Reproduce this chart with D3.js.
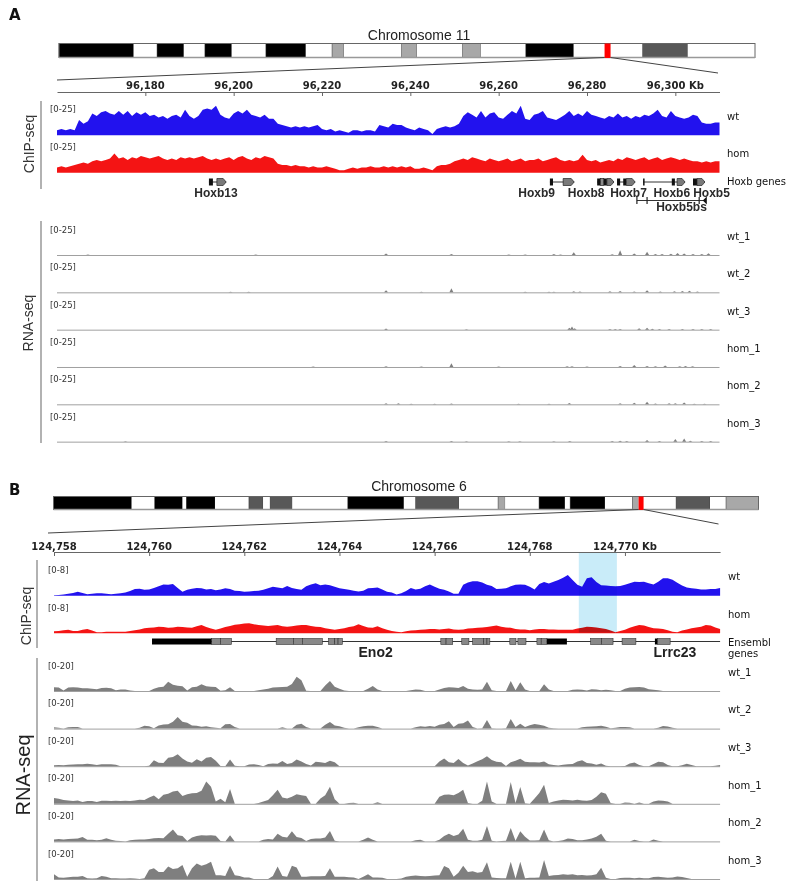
<!DOCTYPE html>
<html>
<head>
<meta charset="utf-8">
<script src="https://cdn.jsdelivr.net/npm/d3@7"></script>
<style>
  body { margin: 0; background: #fff; }
  svg { display: block; }
</style>
</head>
<body>
<script>
// ---------- Panel A : Chr11 Hoxb locus ----------
const chr11LengthMb = 122.1;
const chr11Bands = [[0,13.1,"k"],[13.1,17.2,"w"],[17.2,21.9,"k"],[21.9,25.6,"w"],[25.6,30.3,"k"],[30.3,36.3,"w"],
  [36.3,43.3,"k"],[43.3,47.9,"w"],[47.9,50.0,"g"],[50.0,60.1,"w"],[60.1,62.8,"g"],[62.8,70.8,"w"],[70.8,74.0,"g"],
  [74.0,81.9,"w"],[81.9,90.3,"k"],[90.3,102.4,"w"],[102.4,110.3,"d"],[110.3,122.1,"w"]];
const regionA = [96160, 96310];           // kb
const rulerA = [96180, 96200, 96220, 96240, 96260, 96280, 96300];

// ChIP-seq coverage, one value per kb starting at regionA[0]
const chipAStep = 1;
const chipA_wt = [4,5,4,5,4,12,9,11,17,15,
  18,19,17,16,19,16,19,15,18,16, 18,15,16,14,15,13,15,16,14,20,
  15,13,15,20,21,20,23,16,14,13, 17,19,17,20,16,15,14,16,13,13,
  9,8,7,6,7,6,7,6,7,8, 5,4,5,3,4,3,2,4,4,3,
  4,4,3,8,7,6,9,8,8,6, 5,4,6,5,4,1,5,6,7,6,
  7,9,15,18,16,14,19,14,17,18, 14,13,16,19,17,23,13,12,16,17,
  19,14,13,12,14,16,19,15,17,15, 19,16,15,14,13,15,14,17,14,15,
  13,15,14,16,15,17,20,15,14,19, 15,14,13,14,16,15,10,9,9,10, 10];
const chipA_hom = [4,5,4,5,6,7,8,7,9,10,
  9,10,11,15,11,12,10,12,11,13, 12,11,12,13,11,10,11,10,12,11,
  12,11,12,13,11,10,11,10,11,12, 10,12,13,11,10,12,11,13,12,11,
  7,6,6,5,6,5,5,4,5,4, 4,5,4,3,2,2,3,4,3,4,
  4,5,4,4,5,4,5,4,5,4, 5,3,3,4,3,2,5,6,6,7,
  9,10,11,10,12,11,10,9,11,10, 9,10,11,9,10,11,9,10,10,11,
  9,10,11,12,10,9,10,9,10,14, 10,9,10,8,9,10,9,11,10,12,
  11,10,11,12,10,11,12,10,11,12, 11,10,11,10,9,9,8,9,8,9, 9];

// Hoxb genes (kb)
const hoxbNames = ["Hoxb13","Hoxb9","Hoxb8","Hoxb7","Hoxb6","Hoxb5"];
const hoxbLabelKb = [96196, 96268.6, 96279.8, 96289.4, 96299.2, 96308.2];
const hoxbSpans = [[96194.4,96198.3],[96271.6,96277.1],[96282.3,96286.1],[96286.8,96290.9],[96292.7,96302.2],[96304.0,96306.7]];
const hoxbBlackExons = [[96194.4,96195.3],[96271.6,96272.3],[96282.3,96283.0],[96283.8,96284.5],[96286.8,96287.5],
  [96288.2,96288.9],[96292.7,96292.95],[96299.2,96299.9],[96304.0,96304.9]];
const hoxbGreyExons = [[96283.0,96283.8]];
const hoxbArrowExons = [[96196.2,96198.3],[96274.6,96277.1],[96284.5,96286.1],[96288.9,96290.9],[96300.4,96302.2],[96304.9,96306.7]];
const hoxb5bsSpan = [96291.3, 96306.9];
const hoxb5bsMarks = [96291.3, 96293.6, 96305.4];
const hoxb5bsLabelKb = 96301.4;

// RNA-seq A: sparse small peaks [kb, value]
const rnaANames = ["wt_1","wt_2","wt_3","hom_1","hom_2","hom_3"];
const rnaA_wt1 = [[96167,0.5],[96205,0.4],[96234.5,1.2],[96249.3,0.8],[96262.3,0.5],[96266,0.5],[96272.5,0.8],[96274,0.5],
  [96277,2.2],[96285.7,0.6],[96287.5,3.8],[96290.7,1.2],[96293.6,2.6],[96295.5,0.8],[96297,0.8],[96299,1.0],[96300.5,1.6],
  [96302,1.3],[96304,0.8],[96306,0.8],[96307.5,1.5]];
const rnaA_wt2 = [[96199.3,0.4],[96203.4,0.4],[96234.5,1.6],[96242.5,0.5],[96249.3,3.2],[96266,0.5],[96271.4,0.5],[96272.5,0.5],
  [96277,0.8],[96278.4,0.6],[96285.2,0.8],[96287.5,1.0],[96290.7,0.6],[96293.6,1.6],[96296.6,0.6],[96299.8,0.8],[96301.6,1.0],
  [96303.2,1.2],[96305,0.6]];
const rnaA_wt3 = [[96234.5,1.0],[96252.7,0.4],[96276,1.5],[96276.6,2.6],[96277.2,1.2],[96285.2,0.5],[96286.4,0.5],[96287.5,0.5],
  [96291.8,1.2],[96293.6,1.6],[96294.8,0.8],[96296.4,0.6],[96298.6,0.5],[96301.6,0.6],[96304,0.5],[96306,0.6],[96308,0.5]];
const rnaA_hom1 = [[96218,0.4],[96234.5,0.6],[96242.5,0.4],[96249.3,3.0],[96260,0.4],[96275.5,0.6],[96276.6,0.6],[96280,0.4],
  [96287.5,0.8],[96290.7,1.6],[96293.6,0.8],[96295.5,0.6],[96297.7,1.2],[96301,0.6],[96302.3,0.8],[96303.9,0.5]];
const rnaA_hom2 = [[96234.5,0.8],[96237.3,0.8],[96240.2,0.4],[96245.5,0.4],[96249.3,0.6],[96264.5,0.4],[96271.4,0.4],[96276,1.0],
  [96287.5,0.8],[96290.7,1.3],[96293.6,2.0],[96295.5,0.6],[96298.6,0.8],[96300,0.8],[96302,1.4],[96304.3,0.5],[96306.6,0.5]];
const rnaA_hom3 = [[96175.5,0.4],[96234.5,0.6],[96249.3,0.5],[96252.7,0.4],[96262.3,0.4],[96264.8,0.4],[96272.5,0.4],[96276.1,0.6],
  [96285.7,0.5],[96287.5,0.8],[96289,0.6],[96293.6,1.4],[96296.4,0.5],[96300,2.2],[96302,2.6],[96303.4,0.8],[96306,0.5],[96308,0.5]];

// ---------- Panel B : Chr6 Eno2 locus ----------
const chr6LengthMb = 149.7;
const chr6Bands = [[0,16.6,"k"],[16.6,21.5,"w"],[21.5,27.4,"k"],[27.4,28.2,"w"],[28.2,34.3,"k"],[34.3,41.5,"w"],[41.5,44.5,"d"],
  [44.5,46.0,"w"],[46.0,50.7,"d"],[50.7,62.5,"w"],[62.5,74.4,"k"],[74.4,76.9,"w"],[76.9,86.1,"d"],[86.1,94.4,"w"],[94.4,95.9,"g"],
  [95.9,103.1,"w"],[103.1,108.6,"k"],[108.6,109.7,"w"],[109.7,117.1,"k"],[117.1,122.9,"w"],[122.9,124.2,"g"],[124.2,132.2,"w"],
  [132.2,139.4,"d"],[139.4,142.8,"w"],[142.8,149.7,"g"]];
const regionB = [124758, 124772];
const rulerB = [124758, 124760, 124762, 124764, 124766, 124768, 124770];
const highlightB = [124769.03, 124769.83];

// coverage every 0.1 kb from regionB[0]
const covBStep = 0.1;
const chipB_wt = [0.1,0.2,0.3,0.5,0.7,1.0,0.7,0.4,0.5,0.6,
  0.6,0.5,0.4,0.5,0.6,0.8,1.2,1.7,1.8,1.5, 1.6,2.0,2.4,2.9,2.8,3.0,2.0,1.0,1.5,1.8,
  2.0,1.9,1.6,1.7,1.4,1.6,1.9,1.7,1.3,1.2, 1.0,1.1,1.2,1.3,1.5,1.9,2.3,2.1,1.9,2.5,
  2.0,1.7,1.5,2.4,2.9,3.2,2.7,2.9,2.7,2.3, 1.9,1.7,1.5,1.3,1.1,1.3,1.9,2.0,2.1,1.6,
  1.0,0.8,0.3,0.6,1.2,2.0,1.6,1.8,2.4,2.9, 2.3,1.8,1.5,1.1,0.5,0.5,2.8,3.4,3.7,3.7,
  3.4,2.8,2.5,1.7,1.8,1.9,2.4,2.8,2.9,2.8, 2.3,1.6,3.0,3.5,3.1,3.6,4.0,4.6,5.3,4.0,
  2.8,2.3,4.5,4.7,3.5,2.7,2.6,2.5,2.4,2.5, 2.8,3.2,3.6,3.5,3.6,3.2,2.9,3.6,4.5,4.5,
  4.1,3.3,2.6,2.1,1.9,1.8,1.6,1.6,1.7,1.7, 2.0];
const chipB_hom = [0.5,0.6,0.8,0.9,0.6,0.6,0.9,1.1,0.7,0.3,
  0.3,0.4,0.4,0.4,0.4,0.4,0.6,0.8,1.0,1.3, 1.4,1.5,1.7,1.6,1.4,1.5,1.7,1.6,1.5,1.4,
  1.8,2.1,1.6,1.2,0.9,1.2,1.6,1.9,2.2,2.3, 2.5,2.6,2.3,2.1,2.0,1.9,2.0,2.1,1.8,1.7,
  1.8,2.0,2.1,2.1,1.9,1.7,1.6,1.3,1.1,0.9, 1.1,1.3,1.6,1.8,2.3,1.9,1.5,1.4,1.8,1.3,
  0.9,0.6,0.4,0.3,0.5,0.7,0.8,0.9,1.0,1.1, 1.1,1.0,1.1,1.2,1.0,0.9,1.0,1.2,1.3,1.4,
  1.5,1.6,1.8,2.0,1.7,1.5,1.4,1.1,1.0,1.0, 0.8,1.0,1.1,1.1,1.0,1.0,0.9,0.9,0.9,0.9,
  1.2,1.4,1.7,1.6,1.5,1.3,1.1,0.7,0.3,0.6, 0.9,1.4,1.8,2.1,2.0,1.6,1.3,1.2,1.1,0.8,
  0.4,0.3,0.7,1.0,1.3,1.5,1.7,2.1,2.0,1.5, 1.1];

// Ensembl genes (kb)
const ensemblSpan = [124760.06, 124772];
const ensemblBlack = [[124760.06,124761.31],[124768.36,124768.78],[124770.63,124770.68]];
const ensemblGrey = [[124761.31,124761.5],[124761.5,124761.73],[124762.67,124763.03],[124763.03,124763.22],[124763.22,124763.64],
  [124763.77,124763.9],[124763.9,124763.97],[124763.97,124764.06],[124766.13,124766.24],[124766.24,124766.38],
  [124766.57,124766.72],[124766.8,124767.03],[124767.03,124767.1],[124767.1,124767.16],[124767.58,124767.71],
  [124767.75,124767.92],[124768.15,124768.24],[124768.24,124768.36],[124769.28,124769.51],[124769.51,124769.75],
  [124769.94,124770.23],[124770.68,124770.95]];
const ensemblNames = ["Eno2", "Lrrc23"];
const ensemblLabelKb = [124764.76, 124771.05];

// RNA-seq B coverage
const rnaBNames = ["wt_1","wt_2","wt_3","hom_1","hom_2","hom_3"];
const rnaB_wt1 = [2.5,2.2,0.3,2.2,2.4,2.2,1.8,1.7,1.5,1.2,
  2.0,2.1,1.8,0.5,1.0,0.9,0.3,0,0,0, 0,1.5,2.4,2.8,6.0,4.0,3.4,3.0,0.3,2.5,
  2.8,4.3,3.0,2.8,2.6,0.2,0.5,2.4,0,0, 0,0,0,0.5,1.0,1.5,2.2,2.4,2.6,2.8,
  4.5,9.2,7.0,0.2,0,0,0,3.5,6.5,2.8, 1.5,0.3,0,0,0,0,1.5,3.2,1.0,0,
  0,0,0,0,0,0.5,1.0,0.8,0,0, 0,1.0,2.0,2.4,2.2,2.0,3.2,1.5,1.0,0.8,
  1.0,6.0,0.5,0,0,0,6.5,0.5,5.6,1.0, 0,0,0,4.3,1.0,0,0,0,0,0.8,
  1.0,0.8,0.3,1.2,1.0,0.5,0.8,0.5,0,0, 1.5,2.2,2.4,2.6,2.2,1.2,0.8,0.5,0,0,
  0,0,0,0,0,0,0,0,0,0, 0];
const rnaB_wt2 = [0.9,0.5,0,0.8,1.1,1.0,0,0,0,0,
  0,0,0,0,0,0,0,0,0.5,1.9, 1.5,0.3,2.0,2.6,2.8,4.5,7.5,4.5,3.7,2.0,
  1.9,1.2,1.5,0.8,0.5,0.3,2.8,3.0,1.0,0, 0,0,0,0,0,0,0,0,0.8,0,
  0,2.5,3.2,1.0,0,0,0,2.5,4.3,2.0, 1.5,0.5,0,0,0.8,1.5,1.9,1.8,1.0,0,
  0,0,0,0,0,0,0.8,1.5,1.2,1.6, 1.2,2.5,3.0,4.7,1.0,3.2,3.5,5.2,1.0,0,
  0.3,5.6,0.3,0,0,0.3,6.2,1.0,3.2,1.0, 2.2,3.0,2.5,1.8,0.5,0.3,0,0,0,0,
  0,0.8,1.2,1.3,1.5,1.9,1.2,0.3,0.6,1.0, 1.0,0.8,0,0,0,0,0,0.5,1.6,1.3,
  0.6,0,0,0,0,0,0,0,0,0, 0];
const rnaB_wt3 = [0.6,0.7,0.6,1.0,1.1,1.2,1.3,1.6,1.2,0.8,
  1.2,1.3,1.2,1.0,0,0,0,0,0,0, 0.3,3.9,2.2,2.0,5.5,6.0,7.7,5.0,3.0,2.2,
  4.5,3.0,5.5,6.0,3.5,0.2,0,4.3,0.3,0, 0,1.1,1.3,0.8,0,1.5,1.8,1.6,3.4,1.5,
  2.0,4.3,3.0,1.5,0.5,2.8,2.5,2.0,3.5,2.6, 0,0,0,0,0,0,0,0,0,0,
  0,0,0,0,0,0,0,0,0,0, 0,3.0,5.0,2.5,2.0,4.7,2.0,0.5,1.8,3.2,
  4.5,6.5,4.0,2.8,2.6,0.2,2.6,3.5,4.8,2.8, 2.6,2.6,2.4,3.0,1.3,0.8,0.5,1.0,1.2,1.4,
  3.0,3.9,2.0,1.8,1.0,1.8,0.3,0,0,0, 0.2,1.8,2.4,0.8,0,0,1.5,2.8,2.6,0.8,
  0,0,0.6,1.6,0.8,0,0,0,0,0.3, 0.8];
const rnaB_hom1 = [3.7,3.2,2.5,2.2,1.8,2.2,1.2,1.8,1.8,1.2,
  2.0,2.0,1.8,2.0,1.8,2.0,1.8,2.2,2.6,2.4, 4.0,5.4,3.0,5.8,6.5,8.0,8.5,5.0,6.2,6.8,
  7.0,8.5,14.4,11.0,1.5,3.2,1.0,9.5,0,0, 0,0,0,0.5,1.5,2.5,5.5,9.0,4.0,3.5,
  4.5,6.2,5.5,5.0,0,0,3.5,5.5,11.0,3.0, 0,0,0.5,0.7,0,0,0,0,1.0,0,
  0,0,0,0,0,0,0,0,0,0, 0,4.5,5.8,6.0,5.5,7.0,9.0,0.5,0,0,
  2.0,14.4,1.5,0,0,0,14.0,0.5,10.8,0.3, 0,3.5,6.9,12.3,0.5,1.5,2.2,2.6,2.4,2.2,
  2.6,2.2,2.0,2.4,4.5,7.5,6.5,0.5,0,0, 0.8,0.6,0,0.8,0,0,1.5,2.2,2.0,1.5,
  0,0,0,0,0,0,0,0,0,0, 0];
const rnaB_hom2 = [1.2,1.5,1.3,1.5,1.7,1.8,2.8,1.0,1.0,0.8,
  1.0,2.0,1.0,0.5,0.3,0,0.8,1.0,1.2,1.3, 1.5,2.0,2.2,2.0,5.0,7.7,4.0,3.5,0.3,2.5,
  3.5,3.9,3.8,4.0,3.6,0.2,0,3.9,0,0, 0,0,0,0,1.0,1.5,1.2,5.0,3.0,2.5,
  6.5,2.8,2.2,0.3,1.5,1.8,1.8,2.5,6.7,0.5, 0,0,0,0,0,1.0,2.5,1.0,0,0,
  0,0,0,0,0,0,0.8,1.0,0,0, 0,1.0,3.5,5.0,3.5,4.5,8.2,1.0,0.5,0.5,
  1.0,9.9,0.5,0,0.3,0.5,8.6,0.5,6.5,3.0, 0.6,0.6,0.8,7.7,0.8,0,0.3,0.8,1.8,1.5,
  0.8,0.8,1.3,1.8,3.0,5.0,0.5,0,0,0, 0,0,1.0,0.3,0,0,1.2,0.5,0,0,
  0,0,0,0,0,0,0,0,0,0, 0];
const rnaB_hom3 = [3.0,1.0,0.8,1.2,1.5,1.4,2.0,0.5,0.3,0.5,
  2.0,1.5,0.5,0.5,0.3,0.3,0.5,0.3,0,0.5, 6.0,6.9,4.5,4.5,8.0,6.5,6.9,9.0,1.5,7.0,
  10.0,8.5,9.5,11.2,2.5,2.5,2.0,8.6,2.5,2.0, 1.0,1.0,0,0,0,0,2.0,8.0,2.0,1.5,
  8.6,7.5,1.5,1.5,1.8,1.8,1.8,2.0,6.9,1.5, 1.5,1.5,1.2,1.0,0,1.5,3.0,1.0,1.0,0.8,
  0,0,0,0.3,1.5,2.0,2.2,2.0,1.8,2.0, 2.2,2.4,8.4,7.0,1.5,4.0,8.6,4.5,5.0,4.0,
  4.5,10.8,1.0,0.6,0.5,0.5,11.2,0.3,11.2,0.5, 0.8,0.8,1.0,12.3,2.0,2.4,2.6,3.0,2.8,3.0,
  2.4,2.6,2.2,2.4,3.0,7.3,0.8,0,0,0.6, 0.8,0.8,0.5,0.8,0.5,0.5,1.3,1.5,1.2,0.8,
  1.0,1.6,1.3,0.6,0,0,0,0,0,0, 0];

// ---------- drawing ----------
const fontIgv = "'DejaVu Sans', sans-serif";
const fontSans = "'Liberation Sans', Arial, sans-serif";
const blue = "#2212ee", red = "#f41414", grey = "#7f7f7f";
const stainFill = { k: "#000", w: "#fff", g: "#a8a8a8", d: "#585858" };

const svg = d3.select("body").append("svg")
  .attr("width", 786).attr("height", 881)
  .style("background", "#fff");

function label(x, y, txt, size, opts = {}) {
  return svg.append("text")
    .attr("x", x).attr("y", y)
    .attr("font-family", opts.family || fontIgv)
    .attr("font-size", size)
    .attr("font-weight", opts.weight || "normal")
    .attr("text-anchor", opts.anchor || "start")
    .attr("fill", opts.fill || "#111")
    .attr("transform", opts.rotate ? `rotate(-90,${x},${y})` : null)
    .text(txt);
}

function ideogram(bands, lengthMb, regionKb, x0, x1, y0, h, markerW) {
  const x = d3.scaleLinear().domain([0, lengthMb]).range([x0, x1]);
  const g = svg.append("g");
  g.selectAll("rect").data(bands).join("rect")
    .attr("x", d => x(d[0])).attr("y", y0)
    .attr("width", d => x(d[1]) - x(d[0])).attr("height", h)
    .attr("fill", d => stainFill[d[2]])
    .attr("stroke", d => d[2] === "w" ? "none" : "#333")
    .attr("stroke-width", 0.5);
  g.append("rect").attr("x", x0).attr("y", y0).attr("width", x1 - x0).attr("height", h)
    .attr("fill", "none").attr("stroke", "#666").attr("stroke-width", 1);
  g.append("line").attr("x1", x0).attr("x2", x1).attr("y1", y0 + h).attr("y2", y0 + h)
    .attr("stroke", "#999").attr("stroke-width", 1.6);
  const cx = x((regionKb[0] + regionKb[1]) / 2000);
  g.append("rect").attr("x", cx - markerW / 2).attr("y", y0).attr("width", markerW).attr("height", h + 0.5)
    .attr("fill", "#ff0000");
  return [cx - markerW / 2, cx + markerW / 2];
}

function zoomLines(marker, yBottom, left, right) {
  svg.append("line").attr("x1", marker[0]).attr("y1", yBottom).attr("x2", left[0]).attr("y2", left[1])
    .attr("stroke", "#444").attr("stroke-width", 1);
  svg.append("line").attr("x1", marker[1]).attr("y1", yBottom).attr("x2", right[0]).attr("y2", right[1])
    .attr("stroke", "#444").attr("stroke-width", 1);
}

function ruler(x, ticks, yLine, yText) {
  const g = svg.append("g").attr("transform", `translate(0,${yLine})`)
    .call(d3.axisBottom(x).tickValues(ticks).tickSize(4).tickSizeOuter(0).tickFormat(""));
  g.select(".domain").attr("stroke", "#666");
  g.selectAll(".tick line").attr("stroke", "#666");
  svg.append("g").selectAll("text").data(ticks).join("text")
    .attr("x", d => x(d)).attr("y", yText)
    .attr("text-anchor", "middle")
    .attr("font-family", fontIgv).attr("font-size", 10).attr("font-weight", "bold").attr("fill", "#222")
    .text((d, i) => d3.format(",")(d) + (i === ticks.length - 1 ? " Kb" : ""));
}

function coverage(values, start, step, x, base, h, max, color) {
  const y = d3.scaleLinear().domain([0, max]).range([base, base - h]);
  const pts = values.map((v, i) => [start + i * step, v]);
  const area = d3.area().x(d => x(d[0])).y0(base).y1(d => y(Math.min(d[1], max)));
  svg.append("path").datum(pts).attr("d", area).attr("fill", color);
}

function spikes(peaks, x, base, h, max, color, halfKb) {
  const y = d3.scaleLinear().domain([0, max]).range([base, base - h]);
  const area = d3.area().x(d => x(d[0])).y0(base).y1(d => y(d[1]));
  peaks.forEach(([kb, v]) => {
    svg.append("path").datum([[kb - halfKb, 0], [kb, v], [kb + halfKb, 0]])
      .attr("d", area).attr("fill", color);
  });
}

function baseline(x, base) {
  const [a, b] = x.range();
  svg.append("line").attr("x1", a).attr("x2", b).attr("y1", base + 0.5).attr("y2", base + 0.5)
    .attr("stroke", "#a0a0a0").attr("stroke-width", 1);
}

function sideBar(xPos, y0, y1) {
  svg.append("line").attr("x1", xPos).attr("x2", xPos).attr("y1", y0).attr("y2", y1)
    .attr("stroke", "#999").attr("stroke-width", 1.5);
}

// ===== Panel A =====
label(9, 20, "A", 15, { weight: "bold", family: fontIgv, fill: "#111" });
label(419, 40, "Chromosome 11", 14, { anchor: "middle", family: fontSans, fill: "#222" });
const markA = ideogram(chr11Bands, chr11LengthMb, regionA, 59, 755, 43.5, 14, 6);
zoomLines(markA, 57.5, [57, 80], [718, 73]);

const xA = d3.scaleLinear().domain(regionA).range([57, 719.5]);
ruler(xA, rulerA, 92, 89);

// ChIP-seq A
sideBar(41, 101, 189);
label(34, 144, "ChIP-seq", 14, { anchor: "middle", family: fontSans, rotate: true, fill: "#333" });
coverage(chipA_wt, regionA[0], chipAStep, xA, 135.3, 32, 25, blue);
coverage(chipA_hom, regionA[0], chipAStep, xA, 172.7, 32, 25, red);
label(50, 112, "[0-25]", 8.5, { fill: "#333" });
label(50, 149.5, "[0-25]", 8.5, { fill: "#333" });
label(727, 120, "wt", 10);
label(727, 157, "hom", 10);
label(727, 185, "Hoxb genes", 10);

// Hoxb gene track
const gy = 182;
const gA = svg.append("g");
gA.selectAll("line").data(hoxbSpans).join("line")
  .attr("x1", d => xA(d[0])).attr("x2", d => xA(d[1])).attr("y1", gy).attr("y2", gy)
  .attr("stroke", "#333").attr("stroke-width", 1);
gA.selectAll("rect.grey").data(hoxbGreyExons).join("rect").attr("class", "grey")
  .attr("x", d => xA(d[0])).attr("width", d => xA(d[1]) - xA(d[0]))
  .attr("y", gy - 3.5).attr("height", 7).attr("fill", "#8a8a8a").attr("stroke", "#222").attr("stroke-width", 0.7);
gA.selectAll("rect.black").data(hoxbBlackExons).join("rect").attr("class", "black")
  .attr("x", d => xA(d[0])).attr("width", d => Math.max(1.5, xA(d[1]) - xA(d[0])))
  .attr("y", gy - 3.5).attr("height", 7).attr("fill", "#111");
gA.selectAll("path").data(hoxbArrowExons).join("path")
  .attr("d", d => {
    const a = xA(d[0]), b = xA(d[1]);
    return `M${a},${gy - 3.5}H${b - 3}L${b},${gy}L${b - 3},${gy + 3.5}H${a}Z`;
  })
  .attr("fill", "#7a7a7a").attr("stroke", "#222").attr("stroke-width", 0.7);
gA.selectAll("text").data(hoxbNames).join("text")
  .attr("x", (d, i) => xA(hoxbLabelKb[i])).attr("y", 196.5)
  .attr("text-anchor", "middle").attr("font-family", fontSans)
  .attr("font-size", 12).attr("font-weight", "bold").attr("fill", "#2a2a2a")
  .text(d => d);

// Hoxb5bs
const by = 200.5;
svg.append("line").attr("x1", xA(hoxb5bsSpan[0])).attr("x2", xA(hoxb5bsSpan[1])).attr("y1", by).attr("y2", by)
  .attr("stroke", "#333").attr("stroke-width", 1);
svg.append("g").selectAll("line").data(hoxb5bsMarks).join("line")
  .attr("x1", d => xA(d)).attr("x2", d => xA(d)).attr("y1", by - 3.5).attr("y2", by + 3.5)
  .attr("stroke", "#222").attr("stroke-width", 1.2);
{
  const b = xA(hoxb5bsSpan[1]);
  svg.append("path").attr("d", `M${b + 1},${by - 4}L${b + 1},${by + 4}L${b - 3},${by}Z`).attr("fill", "#111");
}
label(xA(hoxb5bsLabelKb), 211, "Hoxb5bs", 12, { anchor: "middle", family: fontSans, weight: "bold", fill: "#2a2a2a" });

// RNA-seq A
sideBar(41, 221, 443);
label(33, 323, "RNA-seq", 14, { anchor: "middle", family: fontSans, rotate: true, fill: "#333" });
const rnaATracks = [rnaA_wt1, rnaA_wt2, rnaA_wt3, rnaA_hom1, rnaA_hom2, rnaA_hom3];
rnaATracks.forEach((peaks, i) => {
  const base = 255 + i * 37.33;
  baseline(xA, base);
  spikes(peaks, xA, base, 31, 25, grey, 0.45);
  label(50, base - 22, "[0-25]", 8.5, { fill: "#333" });
  label(727, base - 15, rnaANames[i], 10);
});

// ===== Panel B =====
label(9, 495, "B", 15, { weight: "bold", family: fontIgv, fill: "#111" });
label(419, 491, "Chromosome 6", 14, { anchor: "middle", family: fontSans, fill: "#222" });
const markB = ideogram(chr6Bands, chr6LengthMb, regionB, 53.5, 758.5, 496.5, 13, 5);
zoomLines(markB, 509.5, [48, 533], [718.5, 524]);

const xB = d3.scaleLinear().domain(regionB).range([54, 720.1]);
ruler(xB, rulerB, 552, 549.5);

// ChIP-seq B
sideBar(37, 560, 648);
label(31, 616, "ChIP-seq", 14, { anchor: "middle", family: fontSans, rotate: true, fill: "#333" });
coverage(chipB_wt, regionB[0], covBStep, xB, 595.7, 31.2, 8, blue);
coverage(chipB_hom, regionB[0], covBStep, xB, 633.3, 31.2, 8, red);
label(48, 573, "[0-8]", 8.5, { fill: "#333" });
label(48, 611, "[0-8]", 8.5, { fill: "#333" });
label(728, 580, "wt", 10);
label(728, 618, "hom", 10);
label(728, 645.5, "Ensembl", 10);
label(728, 656.5, "genes", 10);

// highlighted region
svg.append("rect")
  .attr("x", xB(highlightB[0])).attr("width", xB(highlightB[1]) - xB(highlightB[0]))
  .attr("y", 553).attr("height", 79.5)
  .attr("fill", "#c9ecf9").style("mix-blend-mode", "multiply");

// Ensembl gene track
const ey = 641.5;
const gB = svg.append("g");
gB.append("line").attr("x1", xB(ensemblSpan[0])).attr("x2", xB(ensemblSpan[1])).attr("y1", ey).attr("y2", ey)
  .attr("stroke", "#333").attr("stroke-width", 1);
gB.selectAll("rect.grey").data(ensemblGrey).join("rect").attr("class", "grey")
  .attr("x", d => xB(d[0])).attr("width", d => xB(d[1]) - xB(d[0]))
  .attr("y", ey - 3).attr("height", 6)
  .attr("fill", "#888").attr("stroke", "#333").attr("stroke-width", 0.6);
gB.selectAll("rect.black").data(ensemblBlack).join("rect").attr("class", "black")
  .attr("x", d => xB(d[0])).attr("width", d => Math.max(1.5, xB(d[1]) - xB(d[0])))
  .attr("y", ey - 3).attr("height", 6).attr("fill", "#000");
gB.selectAll("text").data(ensemblNames).join("text")
  .attr("x", (d, i) => xB(ensemblLabelKb[i])).attr("y", 657)
  .attr("text-anchor", "middle").attr("font-family", fontSans)
  .attr("font-size", 14).attr("font-weight", "bold").attr("fill", "#222")
  .text(d => d);

// RNA-seq B
sideBar(37, 658, 881);
label(30, 775, "RNA-seq", 20, { anchor: "middle", family: fontSans, rotate: true, fill: "#222" });
const rnaBTracks = [rnaB_wt1, rnaB_wt2, rnaB_wt3, rnaB_hom1, rnaB_hom2, rnaB_hom3];
rnaBTracks.forEach((vals, i) => {
  const base = 691 + i * 37.6;
  baseline(xB, base);
  coverage(vals, regionB[0], covBStep, xB, base, 31, 20, grey);
  label(48, base - 22.5, "[0-20]", 8.5, { fill: "#333" });
  label(728, base - 15.3, rnaBNames[i], 10);
});
</script>
</body>
</html>
